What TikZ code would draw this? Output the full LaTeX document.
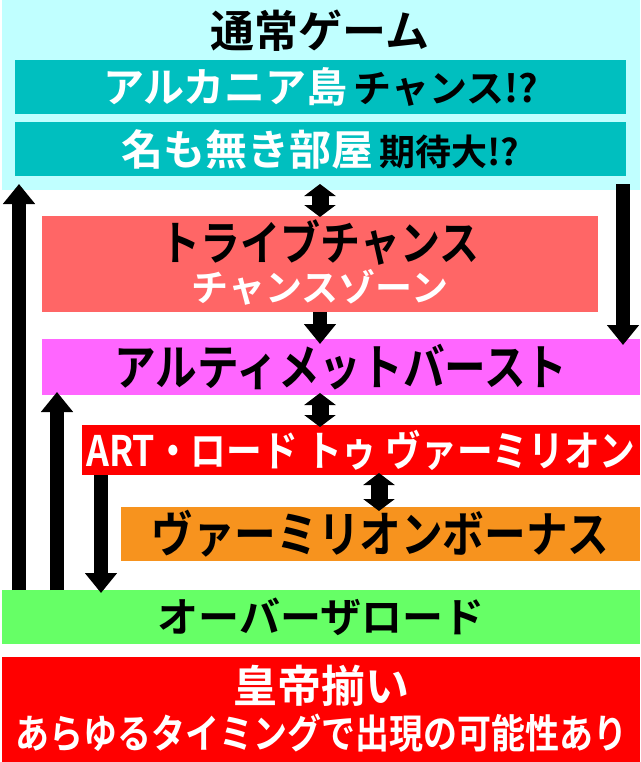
\documentclass[tikz,border=0pt]{standalone}
\usepackage{fontspec}
\usepackage{tikz}
\usetikzlibrary{arrows.meta}

\newfontfamily\jp{Noto Sans CJK JP}[BoldFont=* Bold]
\newfontfamily\jpn{Noto Sans CJK JP}[BoldFont=* Bold,FakeStretch=0.85]
\newcommand\jsize[1]{\fontsize{#1}{#1}\selectfont}

\definecolor{skybg}{HTML}{C0FFFF}
\definecolor{tealbox}{HTML}{00BFBF}
\definecolor{salmon}{HTML}{FF6666}
\definecolor{ultpink}{HTML}{FF66FF}
\definecolor{artred}{HTML}{FF0000}
\definecolor{bonusorange}{HTML}{F7931E}
\definecolor{overgreen}{HTML}{66FF66}

\begin{document}
\begin{tikzpicture}[x=1pt,y=-1pt,
  box/.style={rectangle,draw=none,inner sep=0pt,outer sep=0pt},
  label node/.style={inner sep=0pt,outer sep=0pt,font=\jp\bfseries},
  narrow node/.style={inner sep=0pt,outer sep=0pt,font=\jpn\bfseries},
  big arrow/.style={line width=14pt,-{Triangle[width=31pt,length=20pt]}},
  dbl arrow/.style={line width=17pt,{Triangle[width=31pt,length=12pt]}-{Triangle[width=31pt,length=12pt]}}]

  \useasboundingbox (0,0) rectangle (640,762);

  % boxes
  \node[box,fill=skybg,minimum width=638pt,minimum height=190pt] (normal) at (321,95) {};
  \node[label node] (title) at (320,31) {\jsize{44}通常ゲーム};
  \node[box,fill=tealbox,minimum width=611pt,minimum height=54pt,label node] (arca) at (320.5,87)
    {{\color{white}\jsize{41}アルカニア島}\hspace{6pt}{\jsize{38}チャンス!?}};
  \node[box,fill=tealbox,minimum width=611pt,minimum height=54pt,label node] (room) at (320.5,149)
    {{\color{white}\jsize{42}名も無き部屋}\hspace{6pt}{\jsize{36}期待大!?}};

  \node[box,fill=salmon,minimum width=556pt,minimum height=96pt] (tribe) at (320,264) {};
  \node[narrow node] (tribeA) at ([yshift=21pt]tribe.center) {\jsize{47}トライブチャンス};
  \node[label node,text=white] (tribeB) at ([yshift=-23pt]tribe.center) {\jsize{37}チャンスゾーン};

  \node[box,fill=ultpink,minimum width=598pt,minimum height=56pt,narrow node] (ult) at (341,367)
    {\jsize{49}アルティメットバースト};
  \node[box,fill=artred,minimum width=558pt,minimum height=50pt,narrow node,text=white] (art) at (361,450)
    {\jsize{42}ART・ロード トゥ ヴァーミリオン};
  \node[box,fill=bonusorange,minimum width=519pt,minimum height=54pt,narrow node] (vbonus) at (380.5,534)
    {\jsize{49}ヴァーミリオンボーナス};
  \node[box,fill=overgreen,minimum width=638pt,minimum height=54pt,label node] (over) at (321,617)
    {\jsize{41}オーバーザロード};

  \node[box,fill=artred,minimum width=638pt,minimum height=105pt] (kotei) at (321,709.5) {};
  \node[label node,text=white] (koteiA) at ([yshift=23.5pt]kotei.center) {\jsize{44}皇帝揃い};
  \node[narrow node,text=white] (koteiB) at ([yshift=-23.5pt]kotei.center) {\jsize{40}あらゆるタイミングで出現の可能性あり};

  % arrows
  \path[big arrow]
    ([xshift=17pt]over.north west) edge ([xshift=17pt,yshift=6pt]normal.south west)
    ([xshift=55pt]over.north west) edge ([xshift=15pt,yshift=3pt]ult.south west)
    ([xshift=19pt]art.south west) edge ([xshift=99pt,yshift=-3pt]over.north west)
    ([xshift=-17pt,yshift=6pt]normal.south east) edge ([xshift=-17pt,yshift=-6pt]ult.north east)
    (tribe.south) edge ([xshift=278pt,yshift=-5pt]ult.north west)
    ;

  \path[dbl arrow]
    ([xshift=-1pt,yshift=6pt]normal.south) edge ([yshift=-1pt]tribe.north)
    ([xshift=-21pt,yshift=2pt]ult.south) edge ([xshift=-41pt,yshift=-2pt]art.north)
    ([xshift=18pt,yshift=2pt]art.south) edge ([xshift=-1.5pt,yshift=-4pt]vbonus.north)
    ;

\end{tikzpicture}
\end{document}
